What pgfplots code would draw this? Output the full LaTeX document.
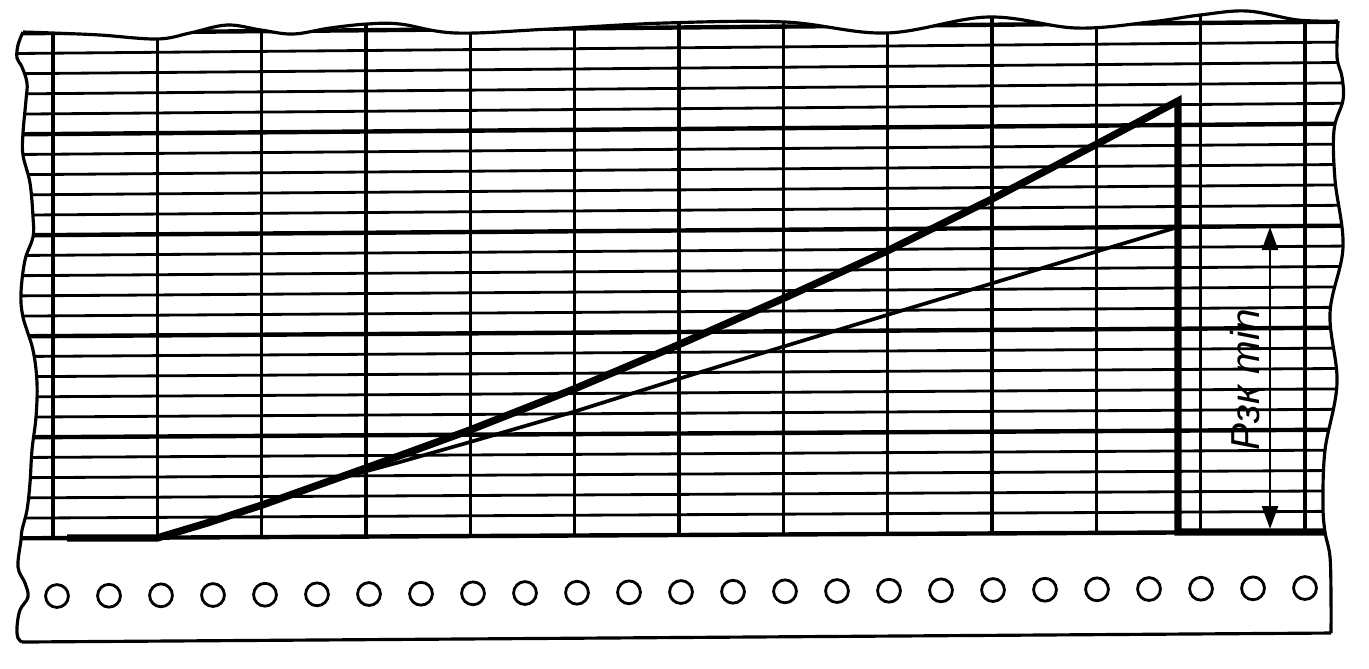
\documentclass[border=0pt]{standalone}
\usepackage{fontspec}
\setmainfont{Liberation Sans}
\usepackage{pgfplots}
\pgfplotsset{compat=1.18}
\usetikzlibrary{arrows.meta}
\begin{document}
\begin{tikzpicture}
\begin{axis}[
  width=13.69cm, height=6.68cm, scale only axis,
  xmin=0, xmax=1369, ymin=0, ymax=668, y dir=reverse,
  hide axis, clip=false,
  hl/.style={black, line width=0.8pt},
  hb/.style={black, line width=1.25pt},
  vl/.style={black, line width=1.0pt},
  edge/.style={black, line width=0.9pt, smooth, tension=0.6},
]
\addplot[draw=none] coordinates {(0,0) (1369,668)};

\begin{scope}
\clip plot[smooth, tension=0.6] coordinates {(23,32) (53,33) (100,35) (157,39) (190,33) (227,25) (261,30) (293,34) (330,28) (367,24) (400,24) (456,33) (550,29) (665,23) (785,22) (886,33) (988,17) (1076,28) (1150,22) (1200,15) (1247,11) (1298,20) (1338,21)}
  -- plot[smooth, tension=0.6] coordinates {(1338,21) (1337,57) (1342,77) (1343,100) (1334,130) (1335,180) (1343,247) (1330,313) (1337,383) (1325,450) (1323,505) (1325,532) (1330,557) (1331,600) (1331,633)}
  -- (22,642)
  -- plot[smooth, tension=0.6] coordinates {(22,642) (18,638) (17,627) (20,610) (28,597) (25,583) (18,567) (21,540) (22,530) (27,510) (30,483) (32,450) (36,417) (37,383) (33,350) (23,317) (21,293) (25,260) (33,237) (33,217) (30,183) (23,155) (23,133) (26,100) (27,83) (22,67) (17,58) (18,45) (23,32)}
  -- cycle;
% horizontal grid lines
\addplot[hb] coordinates {(15,33.3) (1350,21.6)};
\addplot[hl] coordinates {(15,53.5) (1350,42.0)};
\addplot[hl] coordinates {(15,73.7) (1350,62.4)};
\addplot[hl] coordinates {(15,93.9) (1350,82.8)};
\addplot[hl] coordinates {(15,114.1) (1350,103.2)};
\addplot[hb] coordinates {(15,134.3) (1350,123.6)};
\addplot[hl] coordinates {(15,154.5) (1350,144.0)};
\addplot[hl] coordinates {(15,174.7) (1350,164.4)};
\addplot[hl] coordinates {(15,194.9) (1350,184.8)};
\addplot[hl] coordinates {(15,215.1) (1350,205.2)};
\addplot[hb] coordinates {(15,235.3) (1350,225.6)};
\addplot[hl] coordinates {(15,255.5) (1350,246.0)};
\addplot[hl] coordinates {(15,275.7) (1350,266.4)};
\addplot[hl] coordinates {(15,295.9) (1350,286.8)};
\addplot[hl] coordinates {(15,316.1) (1350,307.2)};
\addplot[hb] coordinates {(15,336.3) (1350,327.6)};
\addplot[hl] coordinates {(15,356.5) (1350,348.0)};
\addplot[hl] coordinates {(15,376.7) (1350,368.4)};
\addplot[hl] coordinates {(15,396.9) (1350,388.8)};
\addplot[hl] coordinates {(15,417.1) (1350,409.2)};
\addplot[hb] coordinates {(15,437.3) (1350,429.6)};
\addplot[hl] coordinates {(15,457.5) (1350,450.0)};
\addplot[hl] coordinates {(15,477.7) (1350,470.4)};
\addplot[hl] coordinates {(15,497.9) (1350,490.8)};
\addplot[hl] coordinates {(15,518.1) (1350,511.2)};
\addplot[hb] coordinates {(15,538.3) (1350,531.6)};
% vertical grid lines
\addplot[vl] coordinates {(53,0) (53,538.1)};
\addplot[vl] coordinates {(157.3,0) (157.3,537.6)};
\addplot[vl] coordinates {(261.7,0) (261.7,537.1)};
\addplot[vl] coordinates {(366,0) (366,536.5)};
\addplot[vl] coordinates {(470.3,0) (470.3,536.0)};
\addplot[vl] coordinates {(574.7,0) (574.7,535.5)};
\addplot[vl] coordinates {(679,0) (679,535.0)};
\addplot[vl] coordinates {(783.3,0) (783.3,534.4)};
\addplot[vl] coordinates {(887.7,0) (887.7,533.9)};
\addplot[vl] coordinates {(992,0) (992,533.4)};
\addplot[vl] coordinates {(1096.3,0) (1096.3,532.9)};
\addplot[vl] coordinates {(1200.7,0) (1200.7,532.3)};
\addplot[vl] coordinates {(1305,0) (1305,531.8)};
\end{scope}

% paper outline
\addplot[edge] coordinates {(23,32) (53,33) (100,35) (157,39) (190,33) (227,25) (261,30) (293,34) (330,28) (367,24) (400,24) (456,33) (550,29) (665,23) (785,22) (886,33) (988,17) (1076,28) (1150,22) (1200,15) (1247,11) (1298,20) (1338,21)};
\addplot[edge] coordinates {(1338,21) (1337,57) (1342,77) (1343,100) (1334,130) (1335,180) (1343,247) (1330,313) (1337,383) (1325,450) (1323,505) (1325,532) (1330,557) (1331,600) (1331,633)};
\addplot[black, line width=0.9pt] coordinates {(1331,633) (22,642)};
\addplot[edge] coordinates {(22,642) (18,638) (17,627) (20,610) (28,597) (25,583) (18,567) (21,540) (22,530) (27,510) (30,483) (32,450) (36,417) (37,383) (33,350) (23,317) (21,293) (25,260) (33,237) (33,217) (30,183) (23,155) (23,133) (26,100) (27,83) (22,67) (17,58) (18,45) (23,32)};

% sprocket holes
\addplot[black, only marks, mark=o, mark size=3.25pt, mark options={line width=0.8pt}] coordinates {
(57,596) (109,595.7) (161,595.3) (213,595) (265,594.7) (317,594.3) (369,594) (421,593.7) (473,593.3) (525,593) (577,592.7) (629,592.3) (681,592) (733,591.7) (785,591.3) (837,591) (889,590.7) (941,590.3) (993,590) (1045,589.7) (1097,589.3) (1149,589) (1201,588.7) (1253,588.3) (1305,588)};

% thin recorded line
\addplot[black, line width=1.05pt] coordinates {(330,481) (400,462) (470,442) (573,412) (678,379) (782,347) (887,315) (980,287) (1095,252) (1178,227)};

% thick recorded line
\addplot[black, line width=2.1pt, line join=miter] coordinates {(67,538) (157,538) (207,523) (262,505) (366,468) (470,430) (574,389) (678,345) (782,299) (887,251) (990,200) (1095,145) (1178,101) (1178,532) (1325,532)};

% dimension arrow
\addplot[black, line width=0.75pt, {Triangle[length=2.3mm,width=1.6mm]}-{Triangle[length=2.3mm,width=1.6mm]}] coordinates {(1270,227) (1270,529)};
\node[rotate=90, font=\fontsize{11.5}{12}\selectfont\itshape, inner sep=0pt] at (1245,380) {Pзк min};
\end{axis}
\end{tikzpicture}
\end{document}
